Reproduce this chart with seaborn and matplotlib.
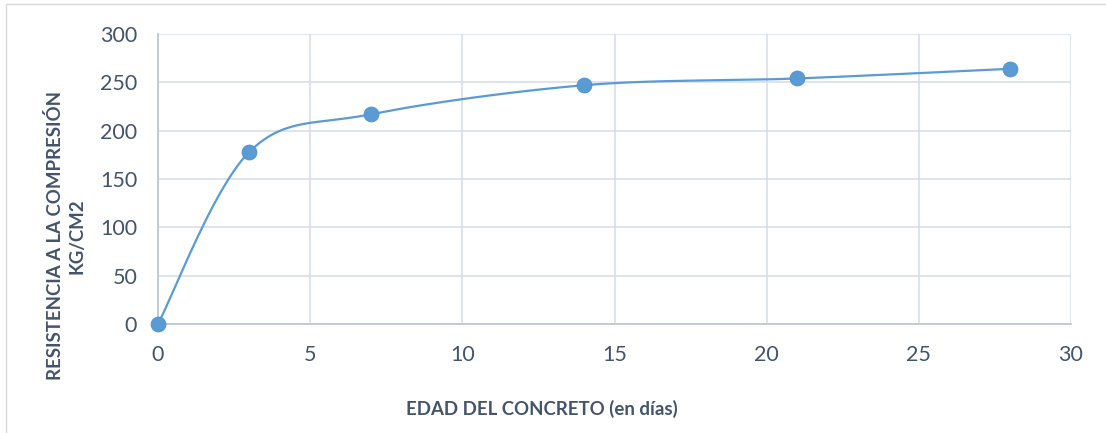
import numpy as np
import pandas as pd
import matplotlib
matplotlib.use("Agg")
import matplotlib.pyplot as plt
import seaborn as sns
from matplotlib.patches import Rectangle

# Concrete compressive strength vs. age
edad_dias = [0, 3, 7, 14, 21, 28]
resistencia = [0, 178, 217, 247, 254, 264]

x_ticks = [0, 5, 10, 15, 20, 25, 30]
y_ticks = [0, 50, 100, 150, 200, 250, 300]

LINE_BLUE = "#5B9BD5"
TEXT = "#44546A"
GRID = "#D9DEE7"
AXIS = "#BFC7D4"

sns.set_theme(style="white")
plt.rcParams["font.family"] = ["Lato", "DejaVu Sans"]


def smooth_curve(xs, ys, n=60):
    """Cardinal (Catmull-Rom style) Bezier smoothing through the points."""
    p = np.column_stack([xs, ys]).astype(float)
    pts = []
    for i in range(len(p) - 1):
        p0 = p[i - 1] if i > 0 else p[i]
        p1, p2 = p[i], p[i + 1]
        p3 = p[i + 2] if i + 2 < len(p) else p[i + 1]
        c1 = p1 + (p2 - p0) / 6.0
        c2 = p2 - (p3 - p1) / 6.0
        t = np.linspace(0, 1, n)[:, None]
        seg = ((1 - t) ** 3) * p1 + 3 * ((1 - t) ** 2) * t * c1 \
            + 3 * (1 - t) * t ** 2 * c2 + t ** 3 * p2
        pts.append(seg if i == 0 else seg[1:])
    s = np.vstack(pts)
    return s[:, 0], s[:, 1]


df = pd.DataFrame({"edad": edad_dias, "resistencia": resistencia})
sx, sy = smooth_curve(edad_dias, resistencia)
curve = pd.DataFrame({"edad": sx, "resistencia": sy})

fig = plt.figure(figsize=(11.06, 4.33), dpi=100)
ax = fig.add_axes([158 / 1106, 1 - 324 / 433, (1071 - 158) / 1106, (324 - 34) / 433])

sns.lineplot(data=curve, x="edad", y="resistencia", ax=ax, color=LINE_BLUE,
             linewidth=1.6, sort=False, estimator=None, zorder=3)
sns.scatterplot(data=df, x="edad", y="resistencia", ax=ax, color=LINE_BLUE,
                s=115, edgecolor="#4F8FCC", linewidth=0.6, zorder=4, clip_on=False)

ax.set_xlim(0, 30)
ax.set_ylim(0, 300)
ax.set_xticks(x_ticks)
ax.set_yticks(y_ticks)
ax.grid(True, color=GRID, linewidth=1.2)
ax.set_axisbelow(True)
for side in ("top", "right"):
    ax.spines[side].set_visible(False)
for side in ("left", "bottom"):
    ax.spines[side].set_color(AXIS)
    ax.spines[side].set_linewidth(1.3)
ax.tick_params(axis="both", length=0, labelsize=15.5, labelcolor=TEXT)
ax.tick_params(axis="x", pad=15)
ax.tick_params(axis="y", pad=15)
ax.set_xlabel("")
ax.set_ylabel("")

fig.text(542 / 1106, 1 - 409 / 433, "EDAD DEL CONCRETO (en días)", ha="center",
         va="center", fontsize=13.4, fontweight="bold", color=TEXT)
fig.text(66 / 1106, 1 - 236 / 433, "RESISTENCIA A LA COMPRESIÓN\nKG/CM2",
         ha="center", va="center", rotation=90, fontsize=13.4, fontweight="bold",
         color=TEXT, linespacing=1.35, multialignment="center")

# Chart-area frame
fig.patches.append(Rectangle((6 / 1106, -0.05), 1.2, 1 - 4.5 / 433 + 0.05,
                             transform=fig.transFigure, fill=False,
                             edgecolor="#D9D9D9", linewidth=1.0))

fig.savefig("out.png", dpi=100)
